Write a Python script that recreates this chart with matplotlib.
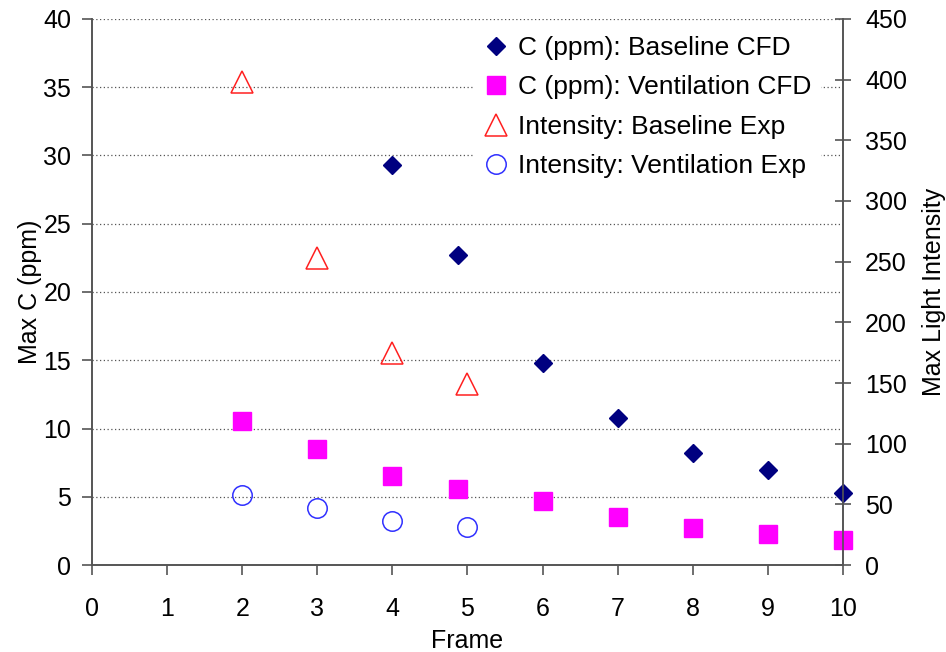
import matplotlib.pyplot as plt
import numpy as np

plt.rcParams['font.family'] = ['Liberation Sans', 'DejaVu Sans']

# C (ppm), left axis
frame_cfd = [4, 4.87, 6, 7, 8, 9, 10]
c_baseline = [29.3, 22.7, 14.8, 10.8, 8.2, 6.95, 5.3]
frame_vent = [2, 3, 4, 4.87, 6, 7, 8, 9, 10]
c_ventilation = [10.55, 8.5, 6.5, 5.55, 4.7, 3.5, 2.7, 2.25, 1.8]

# light intensity, right axis
frame_exp = [2, 3, 4, 5]
int_baseline = [398, 253, 175, 149]
int_ventilation = [58, 47, 36, 31]

FS = 18

fig = plt.figure(figsize=(9.46, 6.52), dpi=100)
ax = fig.add_axes([0.0973, 0.1334, 0.7937, 0.8375])
ax2 = ax.twinx()

ax.plot(frame_cfd, c_baseline, 'D', color='#000080', ms=9.5, mec='#000080',
        label='C (ppm): Baseline CFD', zorder=3, clip_on=False)
ax.plot(frame_vent, c_ventilation, 's', color='#FF00FF', ms=13, mec='#FF00FF',
        label='C (ppm): Ventilation CFD', zorder=3, clip_on=False)
ax2.plot(frame_exp, int_baseline, '^', mfc='none', mec='#FF2020', mew=1.1, ms=16.5,
         label='Intensity: Baseline Exp', clip_on=False)
ax2.plot(frame_exp, int_ventilation, 'o', mfc='none', mec='#3030FF', mew=1.1, ms=14,
         label='Intensity: Ventilation Exp', clip_on=False)

ax.set_xlim(0, 10)
ax.set_ylim(0, 40)
ax2.set_ylim(0, 450)
ax.set_xticks(np.arange(0, 11, 1))
ax.set_yticks(np.arange(0, 41, 5))
ax2.set_yticks(np.arange(0, 451, 50))

ax.yaxis.grid(True, linestyle=(0, (1, 2)), color='#555555', linewidth=0.9)
ax.set_axisbelow(True)

for a in (ax, ax2):
    a.spines['top'].set_visible(False)
    for s in a.spines.values():
        s.set_color('#555555')
        s.set_linewidth(1.2)
    a.tick_params(labelsize=FS, colors='#555555', labelcolor='black', width=1.2, length=7, pad=8)
ax2.tick_params(axis='y', direction='inout', length=12, pad=10)
ax.tick_params(axis='x', pad=16)

ax.set_xlabel('Frame', fontsize=FS, labelpad=6)
ax.set_ylabel('Max C (ppm)', fontsize=FS, labelpad=1)
ax2.set_ylabel('Max Light Intensity', fontsize=FS, labelpad=11)

h1, l1 = ax.get_legend_handles_labels()
h2, l2 = ax2.get_legend_handles_labels()
leg = ax2.legend(h1 + h2, l1 + l2, loc='upper right', bbox_to_anchor=(0.989, 1.012),
                 fontsize=19, frameon=True, framealpha=1, edgecolor='none',
                 facecolor='white', fancybox=False, handletextpad=0.3,
                 handlelength=1.0, labelspacing=0.58, borderpad=0.4)

fig.savefig('out.png', dpi=100)
